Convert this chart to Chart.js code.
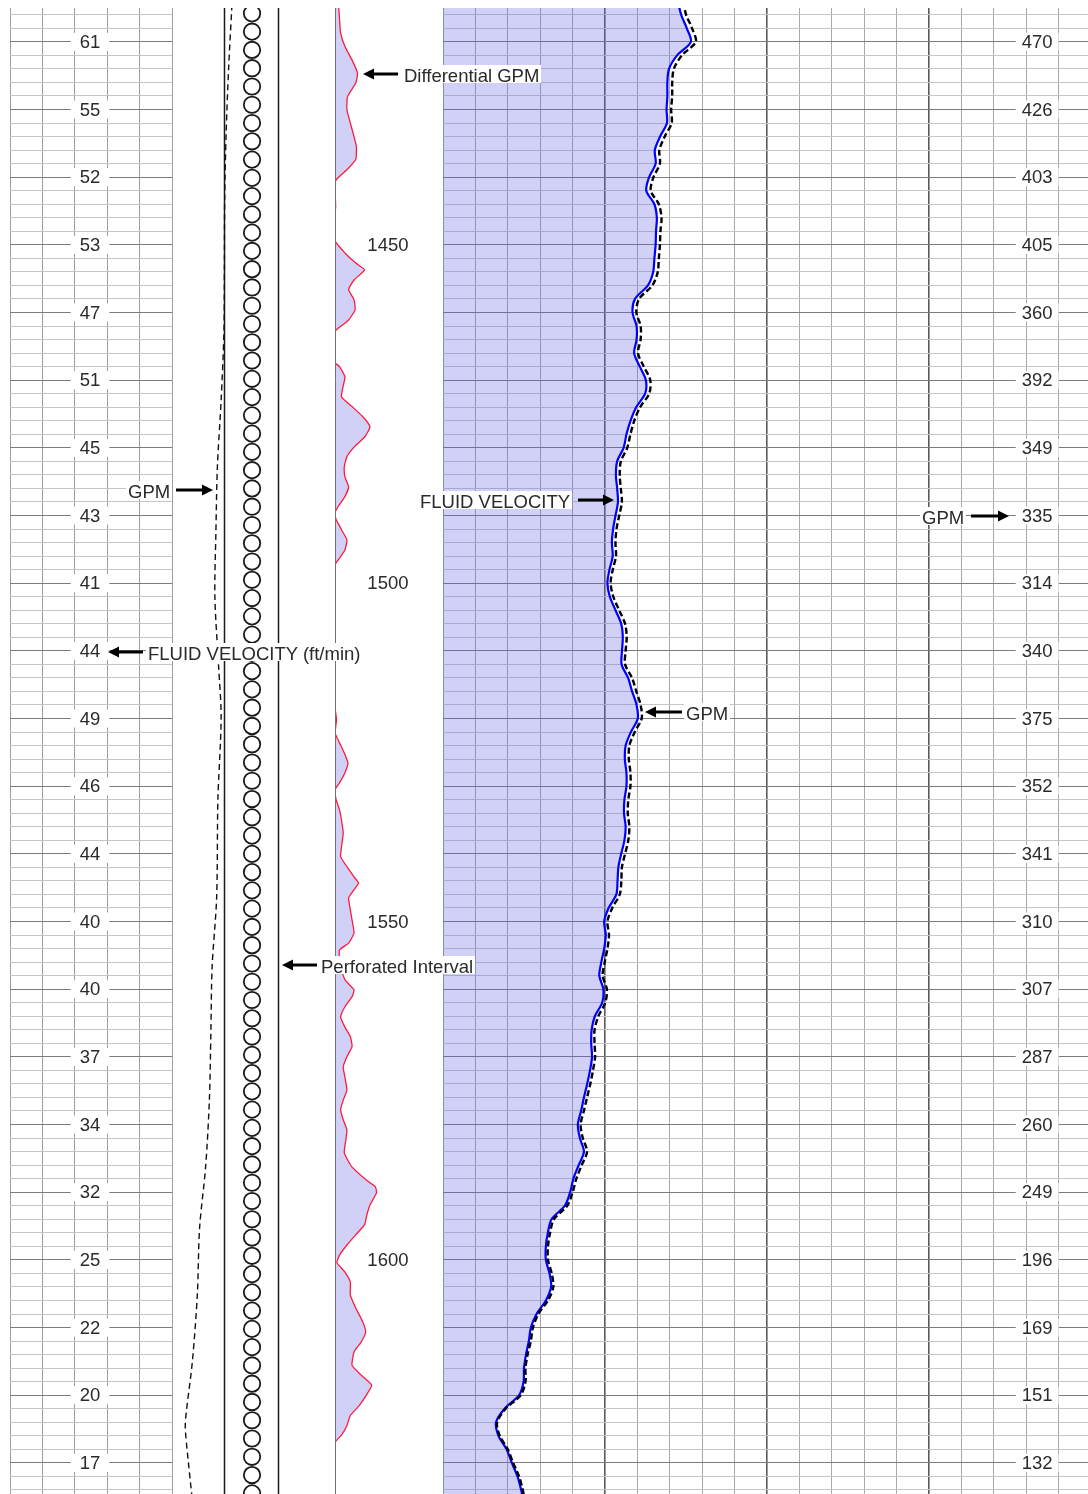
<!DOCTYPE html>
<html>
<head>
<meta charset="utf-8">
<script src="https://cdn.jsdelivr.net/npm/chart.js@4.4.1/dist/chart.umd.min.js"></script>
<style>
  html, body { margin: 0; padding: 0; background: #fff; width: 1088px; height: 1494px; overflow: hidden; }
  .trk { position: absolute; top: 8px; height: 1486px; }
  .note { position: absolute; height: 18px; line-height: 18px; padding: 0 2px; background: #fff;
          font: 18.5px "Liberation Sans", Arial, sans-serif; color: #2a2a2a; white-space: nowrap; }
  #arrows { position: absolute; left: 0; top: 0; }
</style>
</head>
<body>
<div class="trk" style="left:10px;width:163px"><canvas id="track1"></canvas></div>
<div class="trk" style="left:172px;width:163px"><canvas id="track2"></canvas></div>
<div class="trk" style="left:335px;width:108px"><canvas id="depthTrack"></canvas></div>
<div class="trk" style="left:443px;width:648px"><canvas id="track3"></canvas></div>
<svg id="arrows" width="1088" height="1494"></svg>

<script>
// depth window of the log (ft)
const depthTop = 1415;
const depthBottom = 1634.6;

// every 10 ft: value printed on the left (ft/min) and on the right (GPM)
const labelDepths = [1420, 1430, 1440, 1450, 1460, 1470, 1480, 1490, 1500, 1510, 1520,
                     1530, 1540, 1550, 1560, 1570, 1580, 1590, 1600, 1610, 1620, 1630];
const velLabels = [61, 55, 52, 53, 47, 51, 45, 43, 41, 44, 49, 46, 44, 40, 40, 37, 34, 32, 25, 22, 20, 17];
const gpmLabels = [470, 426, 403, 405, 360, 392, 349, 335, 314, 340, 375, 352, 341, 310, 307, 287, 260, 249, 196, 169, 151, 132];
const depthLabels = [1450, 1500, 1550, 1600];

// main curves, sampled every 2 ft
const logDepths = [
  1414, 1416, 1418, 1420, 1422, 1424, 1426, 1428, 1430, 1432,
  1434, 1436, 1438, 1440, 1442, 1444, 1446, 1448, 1450, 1452,
  1454, 1456, 1458, 1460, 1462, 1464, 1466, 1468, 1470, 1472,
  1474, 1476, 1478, 1480, 1482, 1484, 1486, 1488, 1490, 1492,
  1494, 1496, 1498, 1500, 1502, 1504, 1506, 1508, 1510, 1512,
  1514, 1516, 1518, 1520, 1522, 1524, 1526, 1528, 1530, 1532,
  1534, 1536, 1538, 1540, 1542, 1544, 1546, 1548, 1550, 1552,
  1554, 1556, 1558, 1560, 1562, 1564, 1566, 1568, 1570, 1572,
  1574, 1576, 1578, 1580, 1582, 1584, 1586, 1588, 1590, 1592,
  1594, 1596, 1598, 1600, 1602, 1604, 1606, 1608, 1610, 1612,
  1614, 1616, 1618, 1620, 1622, 1624, 1626, 1628, 1630, 1632,
  1634, 1636
];
const fluidVelocity = [
  58.0, 58.8, 60.2, 61.2, 57.8, 55.8, 55.4, 55.4, 55.2, 55.3,
  53.6, 52.3, 52.5, 50.9, 50.2, 52.2, 52.8, 52.6, 52.5, 52.2,
  51.9, 50.6, 47.4, 46.8, 47.8, 47.8, 47.2, 48.6, 50.1, 49.9,
  47.7, 46.3, 45.3, 44.6, 43.0, 42.7, 43.0, 43.2, 42.6, 42.0,
  41.7, 41.9, 41.1, 40.6, 41.2, 42.6, 44.0, 44.4, 44.2, 44.1,
  45.7, 46.7, 47.8, 48.1, 46.4, 45.1, 44.9, 45.3, 45.3, 44.8,
  44.7, 45.1, 44.8, 44.0, 43.3, 43.1, 42.8, 40.9, 39.8, 40.2,
  39.8, 39.1, 38.6, 39.6, 39.3, 37.5, 36.7, 36.6, 36.8, 36.3,
  35.6, 34.8, 34.1, 33.3, 33.8, 34.8, 33.5, 32.2, 31.4, 30.1,
  26.8, 25.9, 25.4, 25.4, 26.3, 26.7, 25.4, 23.1, 21.7, 21.2,
  20.5, 20.0, 19.9, 18.8, 15.2, 13.1, 13.7, 15.7, 17.0, 18.4,
  19.3, 20.0
];
const gpm = [
  448, 454, 465, 472, 446, 431, 428, 428, 426, 427,
  414, 404, 405, 393, 388, 403, 408, 406, 405, 403,
  401, 391, 366, 361, 369, 369, 364, 375, 387, 385,
  368, 357, 350, 344, 332, 330, 332, 334, 329, 324,
  322, 323, 317, 313, 318, 329, 340, 343, 341, 340,
  353, 361, 369, 371, 358, 348, 347, 350, 350, 346,
  345, 348, 346, 340, 334, 333, 330, 316, 307, 310,
  307, 302, 298, 306, 303, 290, 283, 283, 284, 280,
  275, 269, 263, 257, 261, 269, 259, 249, 242, 232,
  207, 200, 196, 196, 203, 206, 196, 178, 168, 164,
  158, 154, 154, 145, 117, 101, 106, 121, 131, 142,
  149, 154
];

// smoothed GPM shown in the completion track
const gpmSmoothDepths = [1413, 1415.3, 1423.7, 1433.4, 1443.3, 1453.2, 1463, 1472.9, 1482.8, 1492.6, 1502,
                         1512.4, 1519.8, 1532, 1546.5, 1556.7, 1566.5, 1576.4, 1586.3, 1595.3, 1605.2,
                         1615.1, 1622.5, 1624.8, 1629.8, 1636];
const gpmSmooth = [482, 476, 452, 432, 420, 418, 414, 392, 362, 350, 342,
                   372, 392, 366, 356, 320, 310, 298, 268, 220, 202,
                   162, 114, 106, 130, 165];

// differential GPM
const diffDepths = [
  1414.8, 1416.7, 1418.7, 1420.7, 1422.7, 1424.6, 1426.1, 1428.1, 1430.0, 1432.0,
  1434.0, 1435.5, 1437.4, 1438.9, 1440.4, 1441.4, 1444.4, 1445.3, 1449.4, 1451.2,
  1452.7, 1453.7, 1455.2, 1456.6, 1458.1, 1459.6, 1461.1, 1462.6, 1463.0, 1467.4,
  1468.0, 1469.5, 1471.0, 1472.5, 1473.9, 1475.4, 1476.9, 1478.4, 1479.9, 1481.3,
  1482.8, 1484.3, 1485.8, 1487.2, 1488.7, 1489.6, 1490.6, 1492.1, 1493.6, 1495.1,
  1496.6, 1497.3, 1518.3, 1520.2, 1522.1, 1523.6, 1525.1, 1526.6, 1528.0, 1529.5,
  1530.5, 1532.0, 1533.5, 1535.0, 1536.9, 1539.0, 1540.4, 1541.9, 1543.4, 1544.3,
  1545.3, 1546.5, 1548.3, 1549.8, 1551.7, 1553.2, 1554.2, 1556.4, 1558.6, 1560.1,
  1561.1, 1562.6, 1564.1, 1565.6, 1567.0, 1568.5, 1570.0, 1571.5, 1573.0, 1574.9,
  1576.4, 1577.8, 1579.3, 1580.8, 1582.3, 1584.2, 1586.3, 1588.2, 1589.2, 1590.1,
  1591.9, 1593.3, 1594.8, 1596.3, 1597.8, 1599.3, 1600.4, 1601.8, 1603.3, 1605.2,
  1607.1, 1609.2, 1610.7, 1612.2, 1613.6, 1615.6, 1617.0, 1618.5, 1620.0, 1621.5,
  1623.0, 1624.5, 1625.9, 1627.0, 1634.6
];
const diffGpm = [
  1.7, 2.1, 2.6, 4.6, 7.9, 10.4, 9.6, 5.8, 5.5, 7.1,
  8.8, 9.9, 9.6, 5.5, 0.5, 0, 0.3, 0, 0, 4.6,
  9.6, 13.7, 8.8, 6.3, 8.8, 9.3, 6.3, 0.5, 0, 0,
  2.1, 4.6, 3.7, 3.0, 7.9, 12.9, 16.2, 13.7, 8.8, 5.5,
  4.3, 4.6, 6.3, 4.6, 1.4, 0, 0.5, 3.0, 5.5, 4.6,
  1.4, 0, 0, 0.7, 0, 2.1, 4.3, 6.0, 4.6, 2.1,
  0, 0.5, 2.1, 3.0, 3.8, 3.0, 2.6, 5.5, 8.8, 10.9,
  8.8, 6.3, 7.1, 7.9, 8.8, 6.3, 2.1, 2.3, 4.6, 8.8,
  7.9, 4.6, 2.6, 4.6, 7.1, 7.9, 5.5, 3.8, 4.6, 5.5,
  3.8, 2.6, 3.8, 5.5, 5.0, 4.3, 7.9, 14.5, 18.7, 19.2,
  16.2, 14.8, 13.7, 9.6, 5.5, 2.1, 0.9, 4.6, 7.1, 7.1,
  9.6, 12.9, 14.2, 12.0, 8.8, 7.9, 12.0, 17.0, 14.5, 11.3,
  7.1, 5.5, 3.0, 0, 0
];

// perforated interval (top, bottom) and spacing of the shot symbols, ft
const perforations = [[1413.1, 1637]];
const perfSymbolStep = 2.7;

const TEXT = '#2a2a2a';
const FONT = '18.5px "Liberation Sans", Arial, sans-serif';
const FILL = 'rgba(90, 90, 225, 0.28)';

const pts = (xs, ys) => xs.map((v, i) => ({ x: v, y: ys[i] }));

function depthAxis(display) {
  return {
    type: 'linear', reverse: true, min: depthTop, max: depthBottom, display,
    ticks: { display: false, stepSize: 2, includeBounds: false },
    grid: {
      drawTicks: false,
      color: c => (c.tick && Math.abs(c.tick.value % 10) < 0.01) ? '#7c7c7c' : '#c6c6c6'
    },
    border: { display: false }
  };
}

function baseOptions(scales, padRight) {
  return {
    indexAxis: 'y',
    responsive: true,
    maintainAspectRatio: false,
    animation: false,
    events: [],
    layout: { padding: { left: 0, top: 0, bottom: 0, right: padRight || 0 }, autoPadding: false },
    plugins: { legend: { display: false }, tooltip: { enabled: false } },
    elements: { point: { radius: 0 } },
    scales
  };
}

// numbers printed over the grid with a white box
function valueLabels(labels, depths, xValue, pad) {
  return {
    id: 'valueLabels',
    afterDatasetsDraw(chart) {
      const ctx = chart.ctx, xs = chart.scales.x, ys = chart.scales.y;
      ctx.save();
      ctx.font = FONT;
      ctx.textAlign = 'center';
      ctx.textBaseline = 'middle';
      labels.forEach((t, i) => {
        const px = xs.getPixelForValue(xValue);
        const py = ys.getPixelForValue(depths[i]);
        const w = ctx.measureText(String(t)).width + pad * 2;
        if (pad) {
          ctx.fillStyle = '#fff';
          ctx.fillRect(px - w / 2, py - 9, w, 18);
        }
        ctx.fillStyle = TEXT;
        ctx.fillText(String(t), px, py + 1);
      });
      ctx.restore();
    }
  };
}

// track 1 : grid + fluid velocity values
new Chart(document.getElementById('track1'), {
  type: 'line',
  data: { datasets: [] },
  options: baseOptions({
    x: {
      type: 'linear', min: 0, max: 5, display: true,
      ticks: { display: false, stepSize: 1 },
      grid: { drawTicks: false, color: '#9c9c9c' },
      border: { display: false }
    },
    y: depthAxis(true)
  }, 1),
  plugins: [valueLabels(velLabels, labelDepths, 2.47, 9)]
});

// track 2 : smoothed GPM, casing and perforations
new Chart(document.getElementById('track2'), {
  type: 'line',
  data: {
    datasets: [{
      data: pts(gpmSmooth, gpmSmoothDepths),
      xAxisID: 'x', yAxisID: 'y',
      borderColor: '#111', borderWidth: 1.4, borderDash: [6, 4],
      tension: 0.3, fill: false
    }]
  },
  options: baseOptions({
    x: { type: 'linear', min: 0, max: 1300, display: false },
    well: { type: 'linear', axis: 'x', min: 0, max: 1, display: false },
    y: depthAxis(false)
  }),
  plugins: [{
    id: 'completion',
    beforeDatasetsDraw(chart) {
      const ctx = chart.ctx, a = chart.chartArea, ws = chart.scales.well, ys = chart.scales.y;
      ctx.save();
      ctx.strokeStyle = '#1a1a1a';
      ctx.lineWidth = 1.5;
      [0.319, 0.65].forEach(v => {
        const px = Math.round(ws.getPixelForValue(v)) + 0.5;
        ctx.beginPath(); ctx.moveTo(px, a.top); ctx.lineTo(px, a.bottom); ctx.stroke();
      });
      ctx.beginPath(); ctx.rect(a.left, a.top, a.right - a.left, a.bottom - a.top); ctx.clip();
      ctx.lineWidth = 1.8;
      const cx = ws.getPixelForValue(0.491);
      perforations.forEach(([top, bottom]) => {
        for (let d = top; d <= bottom; d += perfSymbolStep) {
          ctx.beginPath();
          ctx.arc(cx, ys.getPixelForValue(d), 8.2, 0, Math.PI * 2);
          ctx.fillStyle = '#fff';
          ctx.fill();
          ctx.stroke();
        }
      });
      ctx.restore();
    }
  }]
});

// depth track : differential GPM
new Chart(document.getElementById('depthTrack'), {
  type: 'line',
  data: {
    datasets: [{
      data: pts(diffGpm, diffDepths),
      xAxisID: 'x', yAxisID: 'y',
      borderColor: '#ff1a3c', borderWidth: 1.3,
      backgroundColor: FILL, fill: 'origin', tension: 0.15
    }]
  },
  options: baseOptions({
    x: { type: 'linear', min: 0, max: 50, display: false },
    y: depthAxis(false)
  }),
  plugins: [valueLabels(depthLabels, depthLabels, 24.5, 0), {
    id: 'trackEdge',
    afterDatasetsDraw(chart) {
      const ctx = chart.ctx, a = chart.chartArea;
      ctx.save();
      ctx.strokeStyle = '#6f6f80';
      ctx.lineWidth = 1;
      ctx.beginPath(); ctx.moveTo(0.5, a.top); ctx.lineTo(0.5, a.bottom); ctx.stroke();
      ctx.restore();
    }
  }]
});

// track 3 : fluid velocity (blue, shaded from the left edge) and GPM (dashed)
new Chart(document.getElementById('track3'), {
  type: 'line',
  data: {
    datasets: [{
      data: pts(gpm, logDepths),
      xAxisID: 'xg', yAxisID: 'y',
      borderColor: '#000', borderWidth: 2.4, borderDash: [6, 3],
      fill: false, tension: 0.3
    }, {
      data: pts(fluidVelocity, logDepths),
      xAxisID: 'x', yAxisID: 'y',
      borderColor: '#0000ff', borderWidth: 2.2,
      backgroundColor: FILL, fill: 'origin', tension: 0.3
    }]
  },
  options: baseOptions({
    x: {
      type: 'linear', min: 0, max: 160, display: true,
      ticks: { display: false, stepSize: 8 },
      grid: {
        drawTicks: false,
        color: c => (c.tick && c.tick.value % 40 === 0) ? '#5a5a5a' : '#a8a8a8',
        lineWidth: c => (c.tick && c.tick.value % 40 === 0) ? 1.6 : 1
      },
      border: { display: false }
    },
    xg: { type: 'linear', axis: 'x', min: 0, max: 1210, display: false },
    y: depthAxis(true)
  }),
  plugins: [valueLabels(gpmLabels, labelDepths, 146.7, 6)]
});

// call-outs
const notes = [
  { text: 'Differential GPM', left: 404, y: 74, arrow: [398, 363] },
  { text: 'GPM', left: 128, y: 490, arrow: [176, 213] },
  { text: 'FLUID VELOCITY', left: 420, y: 500, arrow: [578, 614] },
  { text: 'FLUID VELOCITY (ft/min)', left: 148, y: 652, arrow: [143, 108] },
  { text: 'GPM', left: 686, y: 712, arrow: [682, 645] },
  { text: 'GPM', left: 922, y: 516, arrow: [971, 1009] },
  { text: 'Perforated Interval', left: 321, y: 965, arrow: [317, 282] }
];
const svg = document.getElementById('arrows');
let paths = '';
notes.forEach(n => {
  const div = document.createElement('div');
  div.className = 'note';
  div.textContent = n.text;
  div.style.left = (n.left - 2) + 'px';
  div.style.top = (n.y - 9) + 'px';
  document.body.insertBefore(div, svg);
  const [tail, tip] = n.arrow;
  const s = tip > tail ? 1 : -1;
  const base = tip - s * 11;
  paths += `<line x1="${tail}" y1="${n.y}" x2="${base}" y2="${n.y}" stroke="#000" stroke-width="3"/>` +
           `<polygon points="${tip},${n.y} ${base},${n.y - 5.5} ${base},${n.y + 5.5}" fill="#000"/>`;
});
svg.innerHTML = paths;
</script>
</body>
</html>
